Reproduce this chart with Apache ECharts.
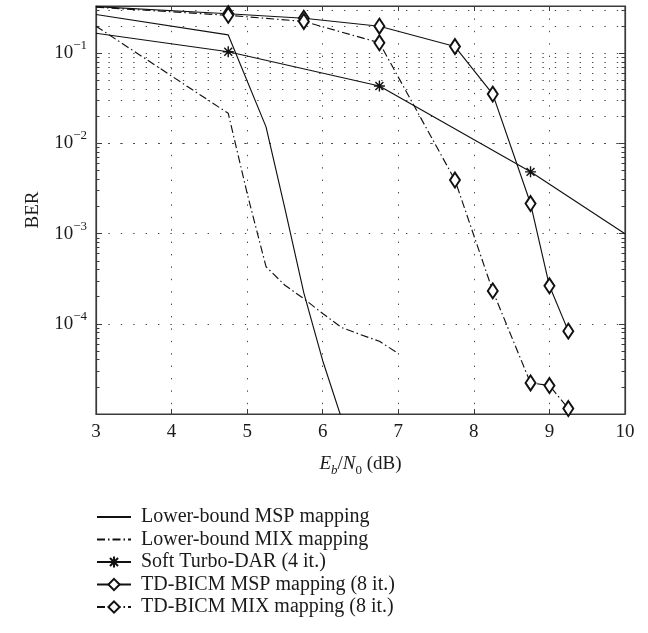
<!DOCTYPE html>
<html>
<head>
<meta charset="utf-8">
<script src="https://cdn.jsdelivr.net/npm/echarts@6/dist/echarts.min.js"></script>
<style>
html,body{margin:0;padding:0;background:#fff;}
#c{width:648px;height:633px;}
</style>
</head>
<body>
<div id="c"></div>
<script>
// ---- data ----
const seriesNames = [
  'Lower-bound MSP mapping',
  'Lower-bound MIX mapping',
  'Soft Turbo-DAR (4 it.)',
  'TD-BICM MSP mapping (8 it.)',
  'TD-BICM MIX mapping (8 it.)'
];
const lbMspX = [3.0, 4.75, 5.25, 5.5, 5.75, 6.0, 6.25];
const lbMspY = [0.27, 0.16, 0.0153, 1.9e-3, 2.2e-4, 3.9e-5, 8.9e-6];

const lbMixX = [3.0, 4.75, 5.0, 5.25, 5.5, 5.75, 6.0, 6.25, 6.5, 6.75, 7.0];
const lbMixY = [0.2, 0.0216, 2.8e-3, 4.3e-4, 2.68e-4, 1.9e-4, 1.3e-4, 9.1e-5, 7.6e-5, 6.4e-5, 4.7e-5];

const darX = [3.0, 4.75, 6.75, 8.75, 10.0];
const darY = [0.167, 0.104, 0.0434, 4.85e-3, 1.0e-3];
const darMarked = [false, true, true, true, false];

const tdMspX = [3.0, 4.75, 5.75, 6.75, 7.75, 8.25, 8.75, 9.0, 9.25];
const tdMspY = [0.33, 0.275, 0.245, 0.2, 0.119, 0.0353, 2.16e-3, 2.64e-4, 8.3e-5];
const tdMspMarked = [false, true, true, true, true, true, true, true, true];

const tdMixX = [3.0, 4.75, 5.75, 6.75, 7.75, 8.25, 8.75, 9.0, 9.25];
const tdMixY = [0.325, 0.264, 0.226, 0.131, 3.93e-3, 2.32e-4, 2.21e-5, 2.07e-5, 1.15e-5];
const tdMixMarked = [false, true, true, true, true, true, true, true, true];

const xTicks = [3, 4, 5, 6, 7, 8, 9, 10];
const yLabelExps = [-1, -2, -3, -4];
const yMin = 1e-5, yMax = 0.335;

// ---- helpers ----
const FONT = '"Liberation Serif", "DejaVu Serif", serif';
const INK = '#111';
const GRID = '#4a4a4a';
const DOT = [1.4, 11];
const DASHDOT = [8, 3, 1.5, 3];

function pairs(xs, ys, marked) {
  return xs.map((x, i) => {
    const item = { value: [x, ys[i]] };
    if (marked && !marked[i]) item.symbol = 'none';
    return item;
  });
}

// minor grid values (2..9 x 10^k) inside the range
const minorVals = [];
for (let k = -5; k <= -1; k++) {
  for (let m = 2; m <= 9; m++) {
    const v = m * Math.pow(10, k);
    if (v > yMin && v < yMax) minorVals.push(v);
  }
}
const tickLenX = 3.5 / 75.6; // ~3.5px in data units of x

const starPath = 'path://M5,0L5,10M0,5L10,5M1.4,1.4L8.6,8.6M8.6,1.4L1.4,8.6';

const chart = echarts.init(document.getElementById('c'), null, { renderer: 'canvas' });

const baseLine = (name, xs, ys, dashed, symbol, marked, size, bw) => ({
  name: name,
  type: 'line',
  data: pairs(xs, ys, marked),
  xAxisIndex: 0,
  yAxisIndex: 0,
  symbol: symbol || 'none',
  symbolSize: size || 10,
  showSymbol: !!symbol,
  showAllSymbol: true,
  clip: true,
  z: 5,
  lineStyle: { color: INK, width: 1.15, type: dashed ? DASHDOT : 'solid' },
  itemStyle: { color: INK, borderColor: INK, borderWidth: bw || 1 },
  emphasis: { disabled: true }
});

const hiddenIcon = { opacity: 0, color: 'transparent', borderColor: 'transparent' };

const option = {
  animation: false,
  backgroundColor: '#fff',
  grid: { left: 96, right: 23, top: 6, bottom: 219, show: true, borderColor: '#3a3a3a', borderWidth: 1.2, containLabel: false },
  legend: {
    data: [
      { name: seriesNames[0], itemStyle: hiddenIcon },
      { name: seriesNames[1], itemStyle: hiddenIcon },
      { name: seriesNames[2] },
      { name: seriesNames[3] },
      { name: seriesNames[4] }
    ],
    orient: 'vertical',
    left: 96,
    top: 507,
    height: 125,
    itemWidth: 34,
    itemHeight: 14,
    itemGap: 2.5,
    padding: 0,
    textStyle: { fontFamily: FONT, fontSize: 20, color: '#1a1a1a', lineHeight: 20, padding: [0, 0, 0, 5] },
    selectedMode: false
  },
  xAxis: [
    {
      type: 'value', min: 3, max: 10, interval: 1, position: 'bottom',
      axisLine: { show: true, lineStyle: { color: '#3a3a3a', width: 1.2 } },
      axisTick: { show: true, inside: true, length: 5, lineStyle: { color: '#3a3a3a' } },
      axisLabel: {
        fontFamily: FONT, fontSize: 19, color: '#1a1a1a', margin: 9,
        formatter: v => (xTicks.indexOf(v) >= 0 ? String(v) : '')
      },
      splitLine: { show: true, lineStyle: { color: GRID, type: DOT, width: 1 } },
      name: '{i|E}{si|b}{n|/}{i|N}{sn|0}{n| (dB)}',
      nameLocation: 'middle',
      nameGap: 37,
      nameTextStyle: {
        rich: {
          i: { fontFamily: FONT, fontSize: 19, fontStyle: 'italic', color: '#1a1a1a', lineHeight: 26, verticalAlign: 'middle' },
          n: { fontFamily: FONT, fontSize: 19, color: '#1a1a1a', lineHeight: 26, verticalAlign: 'middle' },
          si: { fontFamily: FONT, fontSize: 13, fontStyle: 'italic', color: '#1a1a1a', lineHeight: 16, verticalAlign: 'bottom' },
          sn: { fontFamily: FONT, fontSize: 13, color: '#1a1a1a', lineHeight: 16, verticalAlign: 'bottom' }
        }
      }
    },
    {
      type: 'value', min: 3, max: 10, interval: 1, position: 'top',
      axisLine: { show: true, lineStyle: { color: '#3a3a3a', width: 1.2 } },
      axisTick: { show: true, inside: true, length: 5, lineStyle: { color: '#3a3a3a' } },
      axisLabel: { show: false },
      splitLine: { show: false }
    }
  ],
  yAxis: [
    {
      type: 'log', logBase: 10, min: yMin, max: yMax, position: 'left',
      axisLine: { show: true, lineStyle: { color: '#3a3a3a', width: 1.2 } },
      axisTick: { show: true, inside: true, length: 6, lineStyle: { color: '#3a3a3a' } },
      axisLabel: {
        margin: 9,
        formatter: v => {
          const l = Math.log10(v);
          const e = Math.round(l);
          if (Math.abs(l - e) > 1e-6 || yLabelExps.indexOf(e) < 0) return '';
          return '{b|10}{s|\u2212' + (-e) + '}';
        },
        rich: {
          b: { fontFamily: FONT, fontSize: 19, color: '#1a1a1a', lineHeight: 28, verticalAlign: 'middle' },
          s: { fontFamily: FONT, fontSize: 13, color: '#1a1a1a', lineHeight: 14, verticalAlign: 'top' }
        }
      },
      splitLine: { show: true, lineStyle: { color: GRID, type: DOT, width: 1 } },
      name: 'BER',
      nameLocation: 'middle',
      nameGap: 53,
      nameRotate: 90,
      nameTextStyle: { fontFamily: FONT, fontSize: 19, color: '#1a1a1a' }
    },
    {
      type: 'log', logBase: 10, min: yMin, max: yMax, position: 'right',
      axisLine: { show: true, lineStyle: { color: '#3a3a3a', width: 1.2 } },
      axisTick: { show: true, inside: true, length: 6, lineStyle: { color: '#3a3a3a' } },
      axisLabel: { show: false },
      splitLine: { show: false }
    }
  ],
  series: [
    {
      name: '_grid', type: 'line', data: [], xAxisIndex: 0, yAxisIndex: 0, z: 1, silent: true,
      markLine: {
        silent: true, symbol: ['none', 'none'], label: { show: false }, animation: false,
        lineStyle: { color: GRID, type: DOT, width: 1 },
        emphasis: { disabled: true },
        data: minorVals.map(v => ({ yAxis: v }))
      }
    },
    {
      name: '_ticks', type: 'line', data: [], xAxisIndex: 0, yAxisIndex: 0, z: 2, silent: true,
      markLine: {
        silent: true, symbol: ['none', 'none'], label: { show: false }, animation: false,
        lineStyle: { color: '#3a3a3a', type: 'solid', width: 1 },
        emphasis: { disabled: true },
        data: minorVals.map(v => [{ coord: [3, v] }, { coord: [3 + tickLenX, v] }])
          .concat(minorVals.map(v => [{ coord: [10, v] }, { coord: [10 - tickLenX, v] }]))
      }
    },
    baseLine(seriesNames[0], lbMspX, lbMspY, false, null),
    baseLine(seriesNames[1], lbMixX, lbMixY, true, null),
    baseLine(seriesNames[2], darX, darY, false, starPath, darMarked, 11, 1.4),
    baseLine(seriesNames[3], tdMspX, tdMspY, false, 'emptyDiamond', tdMspMarked, [10, 15]),
    baseLine(seriesNames[4], tdMixX, tdMixY, true, 'emptyDiamond', tdMixMarked, [10, 15])
  ]
};
chart.setOption(option);
</script>
</body>
</html>
